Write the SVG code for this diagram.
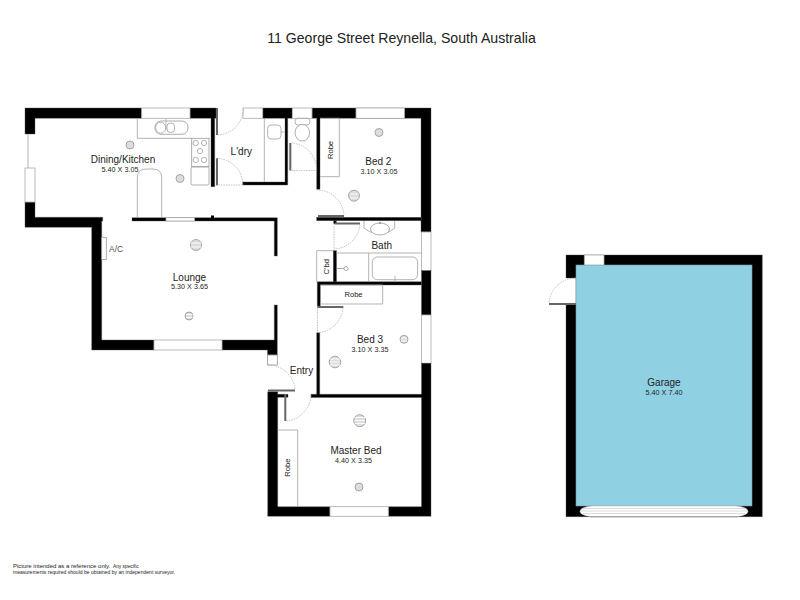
<svg xmlns="http://www.w3.org/2000/svg" width="800" height="600" viewBox="0 0 800 600">
<defs>
<style>
text{font-family:"Liberation Sans",Arial,sans-serif;fill:#222}
.t{font-size:10px;text-anchor:middle}
.d{font-size:7.200px;text-anchor:middle}
.r{font-size:7.600px;text-anchor:middle}
.w{fill:#000;stroke:#555;stroke-width:.4}
.g{fill:#fff;stroke:#aaa;stroke-width:.8}
.l{fill:none;stroke:#aaa;stroke-width:.9}
.k{fill:#fff;stroke:#999;stroke-width:.8}
.a{fill:none;stroke:#999;stroke-width:.6;stroke-dasharray:1.5 1}
.f{fill:#666}
.s{fill:#ddd;stroke:#888;stroke-width:.7}
.h{stroke:#888;stroke-width:.7;fill:none}
</style>
</defs>
<rect width="800" height="600" fill="#fff"/>
<text x="401.500" y="42.500" style="font-size:14.100px" text-anchor="middle">11 George Street Reynella, South Australia</text>

<g id="walls">
<path class="w" d="M25 108H141.700V118.300H35V134H25Z"/>
<path class="w" d="M190 108H216V118.300H214.700V186.700H211V118.300H190Z"/>
<rect class="g" x="141.700" y="108" width="48.300" height="10.300"/>
<path class="w" d="M25 202H35V217.300H102.700V221H101.700V340H154V350H91.700V227.300H25Z"/>
<rect class="g" x="25" y="168" width="10" height="34"/>
<path class="l" d="M28 134V168"/>
<path class="w" d="M132 217.700H277.300V256H274.300V221H132Z"/>
<rect x="211" y="215.500" width="3" height="3" fill="#000"/>
<rect class="g" x="166" y="217.700" width="28.500" height="3.300"/>
<path class="w" d="M222 340H274.300V305H277.300V355H267.500V350H222Z"/>
<rect class="g" x="154" y="340" width="68" height="10"/>
<rect class="k" x="267.500" y="355" width="9.800" height="10"/>
<path class="w" d="M262.700 108H292.300V118.300H287.700V185H242.700V182H285V118.300H262.700Z"/>
<rect class="g" x="243" y="108" width="19.700" height="10.300"/>
<path class="w" d="M312 108H431V232H421V118.300H320V189.300H316.700V118.300H312Z"/>
<rect class="g" x="292.300" y="108" width="19.700" height="10.300"/>
<rect class="g" x="356" y="108" width="48.500" height="10.300"/>
<rect class="w" x="316.700" y="217.300" width="104.500" height="3.400"/>
<rect x="333.500" y="220.700" width="3" height="3" fill="#000"/>
<rect class="g" x="421.500" y="232" width="9.500" height="38.700"/>
<rect class="w" x="421.500" y="270.700" width="9.500" height="44.300"/>
<rect class="g" x="421.500" y="315" width="9.500" height="48.300"/>
<rect class="w" x="333.300" y="250.700" width="3.200" height="31.300"/>
<path class="w" d="M317.300 281.700H421.500V285H320.300V306H317.300Z"/>
<path class="w" d="M316.700 332.700H319.700V394.300H421.500V363.300H431V516.300H388.300V506.700H421.500V397.500H311V394.300H316.700Z"/>
<path class="w" d="M267.700 391.700H277.700V394.300H288V397.300H277.700V506.700H330V516.300H267.700Z"/>
<rect class="g" x="330" y="506.700" width="58.300" height="9.600"/>
</g>

<g id="doors">
<rect class="f" x="216" y="108" width="2" height="27"/>
<path class="a" d="M218 135A27 27 0 0 0 243.500 108"/>
<rect class="f" x="216" y="158.300" width="2" height="27"/>
<path class="a" d="M216 158.300A27 27 0 0 1 243 185H216"/>
<rect class="f" x="289.300" y="143" width="2" height="27.500"/>
<path class="a" d="M291.300 143A27 27 0 0 1 316.700 170.500H291.300"/>
<rect class="f" x="318" y="215" width="26" height="2"/>
<path class="a" d="M316.700 190A27 27 0 0 1 344 215"/>
<rect class="f" x="335" y="222.500" width="25" height="2"/>
<path class="a" d="M360 224.500A27 27 0 0 1 334 249V224"/>
<rect class="f" x="317.300" y="306" width="26" height="2"/>
<path class="a" d="M343 308A27 27 0 0 1 317.500 332.700V308"/>
<rect class="f" x="268" y="389.500" width="27" height="2"/>
<path class="a" d="M268 365A27 27 0 0 1 295 389.500"/>
<rect class="f" x="284.300" y="394" width="2" height="27"/>
<path class="a" d="M286.300 421A27 27 0 0 0 311 394"/>
</g>

<g id="fixtures">
<path class="l" d="M137.300 118.300V138.300H191.700"/>
<rect class="k" x="155" y="121" width="33" height="13.300" rx="6"/>
<ellipse class="l" cx="160.700" cy="127.700" rx="5" ry="5.500"/>
<rect class="l" x="167" y="123" width="7.500" height="9.500" rx="3.500"/>
<path class="l" d="M166 118.500V130"/>
<rect class="k" x="191.700" y="138.300" width="17.300" height="28.400"/>
<circle class="l" cx="195.700" cy="143" r="2.700"/><circle class="l" cx="204" cy="143" r="2.700"/>
<circle class="l" cx="200" cy="151" r="2.700"/><circle class="l" cx="195.700" cy="160" r="2.700"/><circle class="l" cx="204" cy="160" r="2.700"/>
<rect class="k" x="191" y="167" width="18" height="18" rx="1.500"/>
<path class="l" d="M137.300 217V178Q137.300 169 146 169H153Q161.700 169 161.700 178V217"/>
<path class="l" d="M264.300 118.300V182"/>
<rect class="l" x="267.700" y="125" width="13.300" height="14" rx="3.500"/>
<path class="l" d="M281 132H284"/>
<rect class="l" x="295" y="118.300" width="15" height="6.700" rx="3"/>
<ellipse class="k" cx="302.300" cy="132.700" rx="7.300" ry="8.300"/>
<path class="l" d="M320 118.300H339.300V176.700H320"/>
<path class="l" d="M364 221V228L370 232H389L394.700 228V221"/>
<ellipse class="k" cx="380" cy="229" rx="9.500" ry="6"/>
<circle class="h" cx="380" cy="223" r=".8"/>
<path class="l" d="M336.500 253H421.500M368.700 253V282"/>
<rect class="l" x="372.300" y="257" width="45.300" height="22.700" rx="5"/>
<path class="l" d="M395 276V282"/>
<path class="h" d="M336.500 268.500H344"/><circle class="h" cx="346" cy="268.500" r="2"/>
<path class="l" d="M333 250.700H316.700V282"/>
<rect class="k" x="101.700" y="237.300" width="4.600" height="22.200"/>
<path class="l" d="M320.300 285H382.700V304H320.300"/>
<path class="l" d="M277.700 430H297.700V506.700"/>
</g>

<g id="lights">
<g class="s">
<circle cx="130" cy="145" r="4"/><circle cx="180" cy="178.500" r="4"/>
<circle cx="196" cy="245" r="5.500"/><circle cx="189" cy="316" r="4"/>
<circle cx="379" cy="132.500" r="4"/><circle cx="354" cy="195.700" r="5.500"/>
<circle cx="404" cy="339.300" r="4"/><circle cx="335" cy="362" r="5.800"/>
<circle cx="359.700" cy="420.700" r="6"/><circle cx="359" cy="487" r="4"/>
</g>
<path stroke="#fff" stroke-width=".9" fill="none" d="M191 243H201M191 247H201M186 314.500H192.500M186 317.500H192.500M350 194H358.500M350 198H358.500M401 338H407M401 341H407M330 359H340M330 362H340M330 365H340M354.500 417.500H365M354.500 420.500H365M354.500 423.500H365"/>
</g>

<g id="garage">
<path class="w" d="M566 255H762.300V516.700H566V304H576V278H566Z"/>
<rect x="576" y="265" width="176" height="241" fill="#8fd1e2" stroke="#7a9aa5" stroke-width=".6"/>
<rect class="g" x="584.300" y="255" width="19.700" height="10"/>
<rect class="f" x="549" y="303" width="27" height="2"/>
<path class="a" d="M576 278A27 27 0 0 0 549 303"/>
<path fill="#fff" stroke="#bbb" stroke-width=".5" d="M592 506H736Q748 507 748 511.500Q748 515 738 516.500H590Q580 515 580 511.500Q580 507 592 506Z"/>
<path stroke="#ccc" stroke-width=".7" fill="none" d="M582 508.500H746M581 511H747M583 513.500H745"/>
<path stroke="#999" stroke-width=".7" fill="none" d="M590 517H738"/>
</g>

<g id="labels">
<text class="t" x="123" y="163.300">Dining/Kitchen</text><text class="d" x="120" y="171.700">5.40 X 3.05</text>
<text class="t" x="241.300" y="155">L'dry</text>
<text class="t" x="378.300" y="165">Bed 2</text><text class="d" x="379" y="174">3.10 X 3.05</text>
<text class="t" x="381.700" y="249">Bath</text>
<text class="t" x="189.500" y="280.700">Lounge</text><text class="d" x="189.500" y="289">5.30 X 3.65</text>
<text class="t" x="370" y="343">Bed 3</text><text class="d" x="370" y="351.700">3.10 X 3.35</text>
<text class="t" x="301.500" y="374">Entry</text>
<text class="t" x="356" y="454.300">Master Bed</text><text class="d" x="353.500" y="462.700">4.40 X 3.35</text>
<text class="t" x="664" y="386">Garage</text><text class="d" x="664" y="395">5.40 X 7.40</text>
<text class="r" x="353.500" y="297">Robe</text>
<text class="r" transform="translate(332.500 150) rotate(-90)">Robe</text>
<text class="r" transform="translate(328.500 266.700) rotate(-90)">C'bd</text>
<text class="r" transform="translate(290 467.700) rotate(-90)">Robe</text>
<text x="109" y="251.500" style="font-size:8.500px;fill:#555">A/C</text>
<text x="13" y="568" style="font-size:6px;font-weight:500">Picture intended as a reference only.</text>
<text x="113" y="568" style="font-size:4.800px">Any specific</text>
<text x="13" y="574" style="font-size:5.050px">measurements required should be obtained by an independent surveyor.</text>
</g>
</svg>
